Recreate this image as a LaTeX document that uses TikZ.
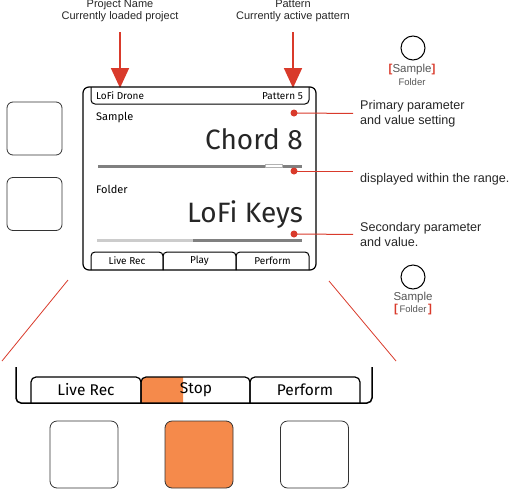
\documentclass[tikz,border=0pt]{standalone}
\usepackage{fontspec}
\setmainfont{Liberation Sans}
\newfontfamily\screenfont{Fira Sans}
\usetikzlibrary{arrows.meta}
\definecolor{callred}{HTML}{D93A2B}
\definecolor{padorange}{HTML}{F58A4B}
\definecolor{knobgray}{HTML}{555555}
\begin{document}
\begin{tikzpicture}[x=1pt,y=-1pt,
  note/.style={font=\fontsize{11}{12}\selectfont, align=center, inner sep=0pt, text=black!85},
  side/.style={font=\fontsize{12.6}{15}\selectfont, align=left, anchor=west, inner sep=0pt, text=black!85},
  callout/.style={draw=callred, line width=1.8pt, -{Triangle[width=18pt,length=20pt]}},
  pointer/.style={draw=callred, line width=1pt},
  zoomline/.style={draw=callred, line width=0.8pt},
  reddot/.style={circle, fill=callred, inner sep=0pt, minimum size=7pt},
  knob/.style={circle, draw, line width=1pt, minimum size=24pt, inner sep=0pt},
  knoblbl/.style={font=\fontsize{11.5}{12}\selectfont, text=knobgray, inner sep=0pt},
  smalllbl/.style={font=\fontsize{9.5}{10}\selectfont, text=knobgray, inner sep=0pt},
  pad/.style={draw=black!80, line width=0.8pt, rounded corners=6pt},
  scr/.style={font=\screenfont\fontsize{10}{11}\selectfont, inner sep=0pt},
  big/.style={font=\screenfont\fontsize{28}{30}\selectfont, inner sep=0pt, anchor=east, text=black!85},
  tab/.style={line width=1pt, rounded corners=4pt},
  bigtab/.style={line width=1.2pt, rounded corners=5pt},
  biglbl/.style={font=\screenfont\fontsize{15.5}{17}\selectfont, inner sep=0pt}]
\useasboundingbox (0,0) rectangle (511,490);

% top labels and arrows
\node[note] (projlbl) at (120,11) {Project Name\\Currently loaded project};
\node[note] (pattlbl) at (293,11) {Pattern\\Currently active pattern};
\coordinate (projtip) at (120,88);
\coordinate (patttip) at (293,88);
\draw[callout, shorten <=10pt] (projlbl.south) -- (projtip);
\draw[callout, shorten <=10pt] (pattlbl.south) -- (patttip);

% knobs
\node[knob] (knobA) at (413,48) {};
\node[knoblbl] (knobAtop) at (412,70) {{\color{callred}\textbf{[}}Sample{\color{callred}\textbf{]}}};
\node[smalllbl] (knobAbot) at (412,82) {Folder};
\node[knob] (knobB) at (413,277) {};
\node[knoblbl] (knobBtop) at (413,298) {Sample};
\node[smalllbl] (knobBbot) at (413,310) {{\color{callred}\fontsize{11.5}{12}\selectfont\textbf{[}}\,Folder\,{\color{callred}\fontsize{11.5}{12}\selectfont\textbf{]}}};

% side pads
\node[pad, minimum width=55pt, minimum height=53pt] (padA) at (34.5,128.5) {};
\node[pad, minimum width=55pt, minimum height=53pt] (padB) at (34.5,204) {};

% screen
\draw[line width=1.2pt, rounded corners=6pt] (83,87) rectangle (316,270);
\draw[tab] (91,87) |- (309,104) -- (309,87);
\node[scr, anchor=west] (proj) at (96,96) {LoFi Drone};
\node[scr, anchor=east] (patt) at (303,96) {Pattern 5};

\node[scr, anchor=west, font=\screenfont\fontsize{11}{12}\selectfont] (smp) at (96,118) {Sample};
\node[big] (chord) at (303,139) {Chord 8};
\draw[black!50, line width=3pt] (98,166) -- (302,166);
\draw[fill=white, draw=black!30, line width=0.5pt] (265,164.3) rectangle (282,167.7);

\node[scr, anchor=west, font=\screenfont\fontsize{11}{12}\selectfont] (fld) at (96,189) {Folder};
\node[big] (keys) at (303,215) {LoFi Keys};
\draw[black!20, line width=3pt] (97,240) -- (193,240);
\draw[black!50, line width=3pt] (193,240) -- (302,240);

\draw[tab] (91,270) |- (163,252) -- (163,270);
\draw[tab] (163,270) |- (236,252) -- (236,270);
\draw[tab] (236,270) |- (309,252) -- (309,270);
\node[scr] (srec) at (127,261) {Live Rec};
\node[scr] (splay) at (199.5,261) {Play};
\node[scr] (sperf) at (272.5,261) {Perform};

% pointers
\node[reddot] (d1) at (294,113) {};
\node[reddot] (d2) at (294,171) {};
\node[reddot] (d3) at (294,234) {};
\node[side] (primtxt) at (360,113.5) {Primary parameter\\and value setting};
\node[side] (rangetxt) at (360,179) {displayed within the range.};
\node[side] (sectxt) at (360,234.5) {Secondary parameter\\and value.};
\draw[pointer, shorten >=7pt] (d1.center) -- (primtxt.west);
\draw[pointer, shorten >=7pt] (d2.center) -- (d2 -| rangetxt.west);
\draw[pointer, shorten >=7pt] (d3.center) -- (sectxt.west);

% zoom lines
\coordinate (zl1) at (68,280);
\coordinate (zl2) at (2,361);
\coordinate (zr1) at (329,281);
\coordinate (zr2) at (396,361);
\draw[zoomline] (zl1) -- (zl2);
\draw[zoomline] (zr1) -- (zr2);

% bottom bar
\fill[padorange] (141,403) [rounded corners=5pt] -- (141,377) [sharp corners] -- (183,377) -- (183,403) -- cycle;
\draw[bigtab] (31,403) |- (141,377) -- (141,403);
\draw[bigtab] (141,403) |- (250,377) -- (250,403);
\draw[bigtab] (250,403) |- (360,377) -- (360,403);
\draw[line width=1.5pt, rounded corners=5pt] (16,367) |- (372,403) -- (372,367);
\node[biglbl] (brec) at (86,390) {Live Rec};
\node[biglbl] (bstop) at (196,390) {Stop};
\node[biglbl] (bperf) at (305,390) {Perform};

% bottom pads
\node[pad, rounded corners=7pt, minimum width=68pt, minimum height=67pt] (padL) at (84,454.5) {};
\node[pad, rounded corners=7pt, minimum width=68pt, minimum height=67pt, fill=padorange] (padM) at (199,454.5) {};
\node[pad, rounded corners=7pt, minimum width=68pt, minimum height=67pt] (padR) at (314.5,454.5) {};
\end{tikzpicture}
\end{document}
